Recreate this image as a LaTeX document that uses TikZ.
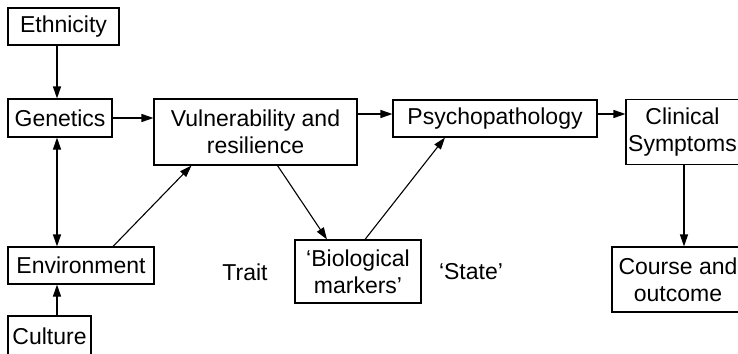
\documentclass[tikz,border=0pt]{standalone}
\usepackage{fontspec}
\setmainfont{Liberation Sans}
\usepackage{tikz}
\usetikzlibrary{arrows.meta,positioning,calc}

\begin{document}
\begin{tikzpicture}[x=1pt, y=-1pt, >={Triangle[length=12pt,width=8pt]},
    line width=1.1pt,
    font=\fontsize{23}{27}\selectfont,
    box/.style={draw, align=center, inner sep=0pt},
    lbl/.style={inner sep=0pt}]

  \clip (0,0) rectangle (738,353);

  % Define coordinates for nodes
  \node[box, minimum width=111pt, minimum height=37pt] (eth) at (63.5, 26.5) {Ethnicity};
  \node[box, minimum width=104pt, minimum height=38pt] (gen) at (60, 118) {Genetics};
  \node[box, minimum width=203pt, minimum height=66pt] (vul) at (255.5, 132) {Vulnerability and\\resilience};
  \node[box, minimum width=204pt, minimum height=37pt] (psy) at (495, 118.5) {Psychopathology};
  \node[box, minimum width=113pt, minimum height=65pt] (cli) at (682.5, 132) {Clinical\\Symptoms};
  \node[box, minimum width=146pt, minimum height=37pt] (env) at (81, 265.5) {Environment};
  \node[box, minimum width=83pt, minimum height=40pt] (cul) at (49.5, 336) {Culture};
  \node[box, minimum width=126pt, minimum height=63pt] (bio) at (358, 271.5) {`Biological\\markers'};
  \node[box, minimum width=132pt, minimum height=65pt] (cou) at (678, 279.5) {Course and\\outcome};
  \node[lbl] (trait) at (245, 272) {Trait};
  \node[lbl] (state) at (471, 272) {`State'};

  \coordinate (col) at (57, 0);
  \coordinate (row) at (0, 114);
  \coordinate (drop) at (684, 0);

  % Draw arrows between nodes
  \draw[->] (eth.south -| col) to (gen.north -| col);
  \draw[<->] (gen.south -| col) to (env.north -| col);
  \draw[->] (cul.north -| col) to (env.south -| col);
  \draw[->] (gen.east) to (gen.east -| vul.west);
  \draw[->] (vul.east |- row) to (psy.west |- row);
  \draw[->] (psy.east |- row) to (cli.west |- row);
  \draw[->] ($(env.north)+(32,0)$) to ($(vul.south)+(-64,0)$);
  \draw[->] ($(vul.south)+(22,0)$) to ($(bio.north)+(-31,0)$);
  \draw[->] ($(bio.north)+(7,0)$) to ($(psy.south)+(-50,0)$);
  \draw[->] (cli.south -| drop) to (cou.north -| drop);
\end{tikzpicture}
\end{document}
